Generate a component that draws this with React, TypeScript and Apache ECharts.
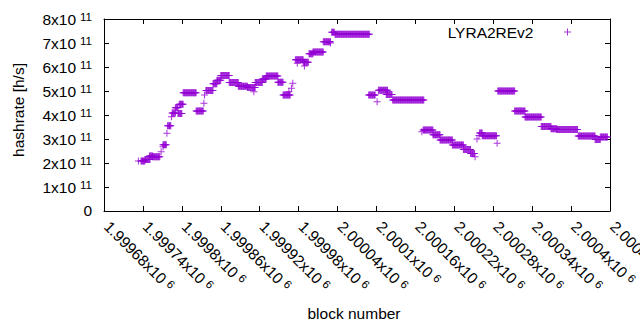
import React, { useEffect, useRef } from "react";
import * as echarts from "echarts";

// ---- axis setup ----
const X_MIN = 1999680;
const X_MAX = 2000460;
const X_STEP = 60;
const Y_MAX = 8e11;
const Y_STEP = 1e11;
const SERIES_NAME = "LYRA2REv2";
const X_TITLE = "block number";
const Y_TITLE = "hashrate [h/s]";

// ---- data (hashrate in units of 1e11 h/s) ----
// plateaus: block ranges where the hashrate stays constant
const runStart = [
  1999737, 1999743, 1999750, 1999755, 1999771, 1999778, 1999785, 1999790, 1999794, 1999796,
  1999802, 1999822, 1999837, 1999848, 1999854, 1999860, 1999873, 1999887, 1999901, 1999913,
  1999924, 1999930, 1999948, 1999956, 1999975, 1999987, 1999996, 2000002, 2000018, 2000031,
  2000036, 2000088, 2000103, 2000115, 2000125, 2000172, 2000187, 2000198, 2000217, 2000234,
  2000245, 2000259, 2000263, 2000287, 2000313, 2000329, 2000354, 2000369, 2000378, 2000411,
  2000437, 2000445,
];
const runEnd = [
  1999743, 1999751, 1999755, 1999766, 1999776, 1999783, 1999790, 1999794, 1999800, 1999802,
  1999822, 1999833, 1999848, 1999854, 1999860, 1999873, 1999887, 1999901, 1999913, 1999924,
  1999930, 1999948, 1999956, 1999967, 1999987, 1999995, 2000002, 2000018, 2000029, 2000035,
  2000089, 2000098, 2000117, 2000124, 2000173, 2000187, 2000198, 2000217, 2000234, 2000245,
  2000251, 2000263, 2000285, 2000313, 2000329, 2000354, 2000369, 2000378, 2000410, 2000437,
  2000445, 2000456,
];
const runValue = [
  2.08, 2.15, 2.29, 2.26, 2.76, 3.55, 4.08, 4.3, 4.06, 4.45,
  4.93, 4.17, 5.02, 5.3, 5.45, 5.65, 5.35, 5.2, 5.15, 5.35,
  5.5, 5.62, 5.36, 4.83, 6.3, 6.2, 6.55, 6.62, 7.05, 7.45,
  7.36, 4.83, 5.03, 4.85, 4.62, 3.37, 3.18, 2.96, 2.75, 2.56,
  2.4, 3.25, 3.14, 5.0, 4.17, 3.92, 3.52, 3.43, 3.4, 3.12,
  2.98, 3.08,
];
// isolated points
const pointBlock = [
  1999733, 1999768, 1999771, 1999777, 1999784, 1999834, 1999835, 1999911, 1999965, 1999969,
  1999971, 1999978, 1999989, 2000029, 2000101, 2000170, 2000252, 2000255, 2000258, 2000286,
];
const pointValue = [
  2.08, 2.47, 2.68, 3.24, 3.93, 4.49, 4.83, 4.97, 4.97, 5.11,
  5.32, 6.16, 6.04, 7.0, 4.55, 3.3, 2.26, 3.0, 3.15, 2.82,
];
const UNIT = 1e11;

const COLOR = "#9400d3";
const FONT = "'Liberation Sans', Arial, sans-serif";
const CROSS = "path://M3,0h1v3h3v1h-3v3h-1v-3h-3v-1h3z";

function buildData(): [number, number][] {
  const out: [number, number][] = [];
  for (let i = 0; i < runStart.length; i++) {
    for (let b = runStart[i]; b <= runEnd[i]; b++) out.push([b, runValue[i] * UNIT]);
  }
  for (let i = 0; i < pointBlock.length; i++) out.push([pointBlock[i], pointValue[i] * UNIT]);
  out.sort((a, b) => a[0] - b[0]);
  return out;
}

function fmtX(v: number): string {
  const m = parseFloat((v / 1e6).toFixed(6)).toString();
  return `{m|${m}x10}{e|6}`;
}
function fmtY(v: number): string {
  if (v === 0) return "{m|0}";
  return `{m|${Math.round(v / 1e11)}x10}{e|11}`;
}

const richY = {
  m: { fontSize: 15.5, lineHeight: 15, verticalAlign: "bottom", fontFamily: FONT, color: "#000" },
  e: { fontSize: 11.5, height: 11, padding: [0, 0, 5, 4], verticalAlign: "top", fontFamily: FONT, color: "#000" },
};
const richX = {
  m: { fontSize: 15.5, lineHeight: 15, padding: [0, 0, 0, 4], verticalAlign: "bottom", fontFamily: FONT, color: "#000" },
  e: { fontSize: 11.5, height: 11, padding: [0, 0, 5, 4], verticalAlign: "top", fontFamily: FONT, color: "#000" },
};

export default function App() {
  const ref = useRef<HTMLDivElement>(null);
  useEffect(() => {
    if (!ref.current) return;
    const chart = echarts.init(ref.current, undefined, { renderer: "svg" });
    const axisLine = { show: true, onZero: false, lineStyle: { color: "#000", width: 1 } };
    const tick = { show: true, inside: true, length: 5, lineStyle: { color: "#000", width: 1 } };
    chart.setOption({
      animation: false,
      backgroundColor: "#fff",
      grid: { left: 104, top: 19, width: 506, height: 192, containLabel: false, outerBoundsMode: "none" },
      legend: {
        data: [{ name: SERIES_NAME, icon: CROSS }],
        right: 69,
        top: 24,
        padding: 0,
        align: "right",
        itemWidth: 58,
        itemHeight: 7,
        textStyle: { fontSize: 15.5, color: "#000", fontFamily: FONT },
      },
      xAxis: [
        {
          type: "value",
          min: X_MIN,
          max: X_MAX,
          interval: X_STEP,
          position: "bottom",
          axisLine,
          axisTick: tick,
          splitLine: { show: false },
          axisLabel: {
            show: true,
            interval: 0,
            rotate: -45,
            margin: 10,
            showMinLabel: true,
            showMaxLabel: true,
            formatter: fmtX,
            rich: richX,
          },
        },
        {
          type: "value",
          min: X_MIN,
          max: X_MAX,
          interval: X_STEP,
          position: "top",
          axisLine,
          axisTick: tick,
          splitLine: { show: false },
          axisLabel: { show: false },
        },
      ],
      yAxis: [
        {
          type: "value",
          min: 0,
          max: Y_MAX,
          interval: Y_STEP,
          position: "left",
          axisLine,
          axisTick: tick,
          splitLine: { show: false },
          axisLabel: { show: true, margin: 12, formatter: fmtY, rich: richY },
        },
        {
          type: "value",
          min: 0,
          max: Y_MAX,
          interval: Y_STEP,
          position: "right",
          axisLine,
          axisTick: tick,
          splitLine: { show: false },
          axisLabel: { show: false },
        },
      ],
      graphic: [
        {
          type: "text",
          x: 18.5,
          y: 110,
          rotation: Math.PI / 2,
          style: { text: Y_TITLE, fontSize: 15.5, fontFamily: FONT, fill: "#000", textAlign: "center", textVerticalAlign: "middle" },
        },
        {
          type: "text",
          x: 354,
          y: 313,
          style: { text: X_TITLE, fontSize: 15.5, fontFamily: FONT, fill: "#000", textAlign: "center", textVerticalAlign: "middle" },
        },
      ],
      series: [
        {
          name: SERIES_NAME,
          type: "scatter",
          xAxisIndex: 0,
          yAxisIndex: 0,
          symbol: CROSS,
          symbolSize: 7,
          itemStyle: { color: COLOR },
          data: buildData(),
          clip: false,
        },
      ],
    });
    return () => chart.dispose();
  }, []);
  return <div ref={ref} style={{ width: 640, height: 330, position: "absolute", left: 0, top: 0 }} />;
}
